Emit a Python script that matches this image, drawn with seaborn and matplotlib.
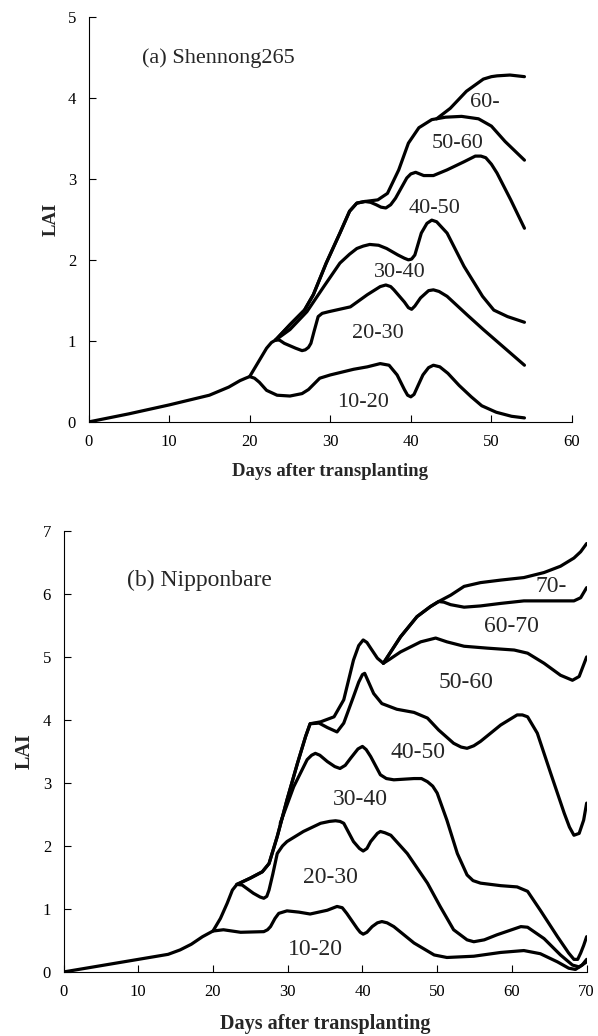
import numpy as np
import pandas as pd
import matplotlib
matplotlib.use("Agg")
import matplotlib.pyplot as plt
import seaborn as sns

# ---------------- data: (a) Shennong265, cumulative LAI boundaries ----------------
a_c1_day = [0, 5, 10, 15, 17.4, 18.8, 19.5, 20, 20.6, 21.2, 22.1, 23.4, 25, 26.5, 27.3, 28.0, 28.7, 30, 32.9, 34.6, 36.2, 37.3, 38.3, 39.2, 39.6, 40.0, 40.4, 40.9, 41.5, 42.2, 42.8, 43.6, 44.6, 46, 47.5, 48.8, 50.6, 52.5, 54.1]
a_c1_lai = [0.0, 0.1, 0.21, 0.33, 0.43, 0.51, 0.54, 0.56, 0.54, 0.49, 0.39, 0.33, 0.32, 0.35, 0.40, 0.47, 0.54, 0.58, 0.65, 0.68, 0.72, 0.70, 0.58, 0.40, 0.33, 0.31, 0.34, 0.45, 0.58, 0.67, 0.70, 0.68, 0.60, 0.45, 0.31, 0.20, 0.12, 0.07, 0.05]

a_c2_day = [20, 21.2, 22.1, 22.7, 23.2, 23.7, 24.3, 25.7, 26.5, 26.9, 27.3, 27.6, 28.0, 28.5, 29.0, 29.8, 32.5, 34.6, 36.2, 36.9, 37.5, 37.9, 39.2, 39.7, 40.1, 40.5, 41.2, 42.2, 42.8, 43.5, 44.5, 47, 49, 54.1]
a_c2_lai = [0.56, 0.76, 0.91, 0.98, 1.01, 1.01, 0.97, 0.91, 0.88, 0.89, 0.92, 0.97, 1.12, 1.30, 1.34, 1.36, 1.42, 1.57, 1.67, 1.69, 1.67, 1.63, 1.48, 1.41, 1.39, 1.43, 1.53, 1.62, 1.63, 1.61, 1.55, 1.32, 1.14, 0.70]

a_c3_day = [23.2, 25.0, 27.1, 29.2, 31.2, 32.4, 33.3, 34.1, 34.9, 36.0, 37.0, 38.4, 39.2, 39.7, 40.1, 40.5, 41.3, 42.0, 42.6, 43.2, 44.5, 46.6, 48.9, 50.3, 52.0, 54.1]
a_c3_lai = [1.01, 1.14, 1.36, 1.67, 1.96, 2.07, 2.14, 2.17, 2.19, 2.18, 2.14, 2.06, 2.02, 2.00, 2.01, 2.06, 2.33, 2.45, 2.49, 2.47, 2.33, 1.92, 1.55, 1.38, 1.30, 1.23]

a_c4_day = [23.2, 25.0, 26.8, 27.9, 29.5, 31.2, 32.4, 33.3, 34.3, 35.0, 35.7, 36.3, 36.9, 37.5, 38.1, 39.5, 40.0, 40.6, 41.6, 42.8, 44.5, 46.6, 48.0, 48.7, 49.3, 50.0, 50.7, 52.4, 54.1]
a_c4_lai = [1.01, 1.20, 1.38, 1.57, 1.96, 2.33, 2.60, 2.70, 2.72, 2.71, 2.68, 2.65, 2.64, 2.68, 2.76, 3.01, 3.06, 3.08, 3.04, 3.04, 3.11, 3.21, 3.28, 3.28, 3.26, 3.18, 3.07, 2.74, 2.39]

a_c5_day = [23.2, 25.0, 26.8, 27.9, 29.5, 31.2, 32.4, 33.3, 34.3, 35.9, 37.1, 38.5, 39.7, 41.0, 42.6, 44.3, 46.3, 48.4, 50.0, 51.7, 54.1]
a_c5_lai = [1.01, 1.20, 1.38, 1.57, 1.96, 2.33, 2.60, 2.70, 2.72, 2.74, 2.82, 3.11, 3.44, 3.63, 3.73, 3.76, 3.77, 3.74, 3.65, 3.46, 3.23]

a_c6_day = [43.2, 44.9, 46.9, 49.0, 50.0, 50.7, 52.3, 54.1]
a_c6_lai = [3.74, 3.87, 4.08, 4.23, 4.26, 4.27, 4.28, 4.26]

a_labels = ["10-20", "20-30", "30-40", "40-50", "50-60", "60-"]
a_label_x = [34.1, 35.9, 38.6, 43.0, 45.8, 49.2]
a_label_y = [0.24, 1.09, 1.84, 2.63, 3.44, 3.94]

# ---------------- data: (b) Nipponbare ----------------
b_c1_day = [0, 5, 10, 14, 15.6, 17.1, 18.6, 20, 21.4, 23.7, 26.8, 27.3, 27.7, 28.3, 28.8, 29.9, 31.5, 33.0, 35.3, 36.6, 37.3, 37.9, 39.3, 39.7, 40.1, 40.6, 41.3, 42.0, 42.6, 43.3, 44.2, 46.9, 49.6, 51.3, 54.9, 58.5, 61.6, 63.8, 66.1, 67.6, 68.5, 69.4, 70]
b_c1_lai = [0.0, 0.1, 0.2, 0.28, 0.35, 0.44, 0.56, 0.65, 0.67, 0.63, 0.64, 0.67, 0.72, 0.85, 0.93, 0.97, 0.95, 0.92, 0.98, 1.04, 1.02, 0.93, 0.69, 0.63, 0.60, 0.63, 0.72, 0.78, 0.80, 0.78, 0.72, 0.46, 0.27, 0.23, 0.25, 0.31, 0.34, 0.29, 0.16, 0.06, 0.04, 0.11, 0.20]

b_c2_day = [20, 21.0, 21.9, 22.6, 23.2, 23.9, 25.4, 26.3, 26.8, 27.2, 27.5, 28.0, 28.6, 29.3, 29.9, 32.1, 34.4, 35.6, 36.4, 37.0, 37.5, 38.8, 39.6, 40.1, 40.6, 41.1, 42.0, 42.4, 43.0, 43.8, 46.0, 48.7, 50.4, 52.2, 54.0, 54.9, 56.3, 58.0, 61.2, 62.1, 64.3, 66.5, 68.1, 69.0, 70]
b_c2_lai = [0.65, 0.85, 1.09, 1.30, 1.39, 1.38, 1.25, 1.19, 1.17, 1.20, 1.30, 1.55, 1.88, 2.00, 2.07, 2.23, 2.36, 2.39, 2.40, 2.39, 2.36, 2.07, 1.96, 1.92, 1.96, 2.07, 2.20, 2.23, 2.21, 2.17, 1.88, 1.41, 1.04, 0.67, 0.51, 0.48, 0.51, 0.59, 0.72, 0.71, 0.53, 0.27, 0.11, 0.08, 0.16]

b_c3_day = [29.0, 30.8, 32.6, 33.2, 33.7, 34.3, 35.3, 36.3, 37.0, 37.7, 38.4, 39.4, 40.0, 40.5, 41.1, 42.4, 43.2, 44.2, 46.9, 47.9, 48.7, 49.4, 50.0, 51.3, 52.7, 54.0, 54.8, 55.8, 58.5, 60.7, 62.1, 63.8, 66.1, 67.6, 68.3, 68.8, 69.2, 69.6, 70]
b_c3_lai = [2.36, 2.94, 3.37, 3.44, 3.47, 3.44, 3.34, 3.26, 3.23, 3.28, 3.39, 3.54, 3.58, 3.53, 3.42, 3.13, 3.07, 3.05, 3.07, 3.07, 3.02, 2.95, 2.84, 2.41, 1.88, 1.54, 1.45, 1.41, 1.37, 1.35, 1.28, 0.98, 0.56, 0.30, 0.20, 0.20, 0.30, 0.42, 0.56]

b_c4_day = [23.2, 25.0, 26.6, 27.5, 28.6, 29.9, 31.3, 32.4, 33.0, 34.2, 35.3, 36.6, 37.5, 38.8, 39.5, 40.0, 40.3, 40.6, 41.5, 42.6, 44.6, 46.9, 48.7, 50.2, 52.2, 53.2, 54.0, 54.9, 55.8, 58.5, 60.7, 61.4, 62.1, 63.4, 65.2, 67.0, 67.7, 68.3, 69.0, 69.6, 70]
b_c4_lai = [1.39, 1.49, 1.59, 1.72, 2.15, 2.73, 3.31, 3.74, 3.94, 3.95, 3.88, 3.81, 3.95, 4.37, 4.60, 4.72, 4.74, 4.66, 4.42, 4.26, 4.17, 4.12, 4.03, 3.84, 3.63, 3.57, 3.55, 3.59, 3.66, 3.92, 4.08, 4.08, 4.05, 3.79, 3.15, 2.52, 2.30, 2.17, 2.20, 2.41, 2.68]

b_c5_day = [23.2, 25.0, 26.6, 27.5, 28.6, 29.9, 31.3, 32.4, 33.0, 34.4, 36.2, 37.5, 38.8, 39.5, 40.1, 40.6, 41.1, 42.0, 42.8, 43.6, 45.1, 47.8, 49.8, 51.3, 53.6, 56.7, 60.3, 62.1, 64.3, 66.5, 68.1, 69.0, 70]
b_c5_lai = [1.39, 1.49, 1.59, 1.72, 2.15, 2.73, 3.31, 3.74, 3.94, 3.97, 4.05, 4.32, 4.95, 5.18, 5.27, 5.23, 5.14, 4.98, 4.90, 4.96, 5.08, 5.24, 5.30, 5.24, 5.17, 5.14, 5.11, 5.06, 4.90, 4.71, 4.63, 4.69, 5.00]

b_c6_day = [42.8, 45.1, 47.3, 49.1, 50.2, 50.9, 51.8, 53.6, 55.8, 58.5, 61.6, 64.7, 68.3, 69.2, 70]
b_c6_lai = [4.90, 5.32, 5.64, 5.80, 5.88, 5.87, 5.83, 5.79, 5.81, 5.85, 5.89, 5.89, 5.89, 5.94, 6.10]

b_c7_day = [42.8, 45.1, 47.3, 49.1, 50.2, 51.8, 53.6, 55.8, 58.5, 61.6, 64.3, 66.5, 68.3, 69.2, 70]
b_c7_lai = [4.90, 5.32, 5.64, 5.80, 5.88, 5.98, 6.12, 6.18, 6.22, 6.26, 6.34, 6.44, 6.57, 6.67, 6.80]

b_labels = ["10-20", "20-30", "30-40", "40-50", "50-60", "60-70", "70-"]
b_label_x = [33.7, 35.7, 39.7, 47.4, 53.8, 60.0, 65.2]
b_label_y = [0.35, 1.50, 2.74, 3.49, 4.59, 5.49, 6.12]


def build(curves):
    frames = []
    for i, (d, v) in enumerate(curves):
        frames.append(pd.DataFrame({"day": d, "lai": v, "curve": i}))
    return pd.concat(frames, ignore_index=True)


df_a = build([(a_c1_day, a_c1_lai), (a_c2_day, a_c2_lai), (a_c3_day, a_c3_lai),
              (a_c4_day, a_c4_lai), (a_c5_day, a_c5_lai), (a_c6_day, a_c6_lai)])
df_b = build([(b_c1_day, b_c1_lai), (b_c2_day, b_c2_lai), (b_c3_day, b_c3_lai),
              (b_c4_day, b_c4_lai), (b_c5_day, b_c5_lai), (b_c6_day, b_c6_lai),
              (b_c7_day, b_c7_lai)])

sns.set_theme(style="ticks")
plt.rcParams["font.family"] = ["Liberation Serif", "DejaVu Serif"]
plt.rcParams["axes.linewidth"] = 0.8

fig = plt.figure(figsize=(5.98, 10.36), dpi=100)
ax1 = fig.add_axes([0.148, 0.5927, 0.9565 - 0.148, 0.9839 - 0.5927])
ax2 = fig.add_axes([0.1062, 0.0618, 0.981 - 0.1062, 0.4875 - 0.0618])


def style(ax, df, xmax, ymax, title, tx, ty, labels, lx, ly, fs_lab, fs_axis, fs_tick, fs_title, xlpad):
    sns.lineplot(data=df, x="day", y="lai", units="curve", estimator=None, sort=False,
                 color="black", linewidth=2.3, ax=ax, legend=False,
                 solid_joinstyle="round", solid_capstyle="round")
    ax.set_xlim(0, xmax)
    ax.set_ylim(0, ymax)
    ax.set_xticks(np.arange(0, xmax + 1, 10))
    ax.set_yticks(np.arange(0, ymax + 1, 1))
    for s in ["top", "right"]:
        ax.spines[s].set_visible(False)
    for s in ["left", "bottom"]:
        ax.spines[s].set_color("black")
        ax.spines[s].set_linewidth(0.8)
    ax.tick_params(direction="in", length=5, width=0.8, colors="black",
                   labelsize=fs_tick, pad=9)
    ax.set_xlabel("Days after transplanting", fontsize=fs_axis, fontweight="bold", labelpad=xlpad)
    ax.set_ylabel("LAI", fontsize=fs_axis, fontweight="bold", labelpad=6)
    ax.text(tx, ty, title, fontsize=fs_title, ha="left", va="center")
    for t, x, y in zip(labels, lx, ly):
        ax.text(x, y, t, fontsize=fs_lab, ha="center", va="center")
    ax.set_facecolor("white")


style(ax1, df_a, 60, 5, "(a) Shennong265", 6.6, 4.49, a_labels, a_label_x, a_label_y,
      16, 13.5, 12, 16, 9)
style(ax2, df_b, 70, 7, "(b) Nipponbare", 8.5, 6.21, b_labels, b_label_x, b_label_y,
      17, 14.5, 12, 17, 10)

fig.savefig("out.png", dpi=100, facecolor="white")
